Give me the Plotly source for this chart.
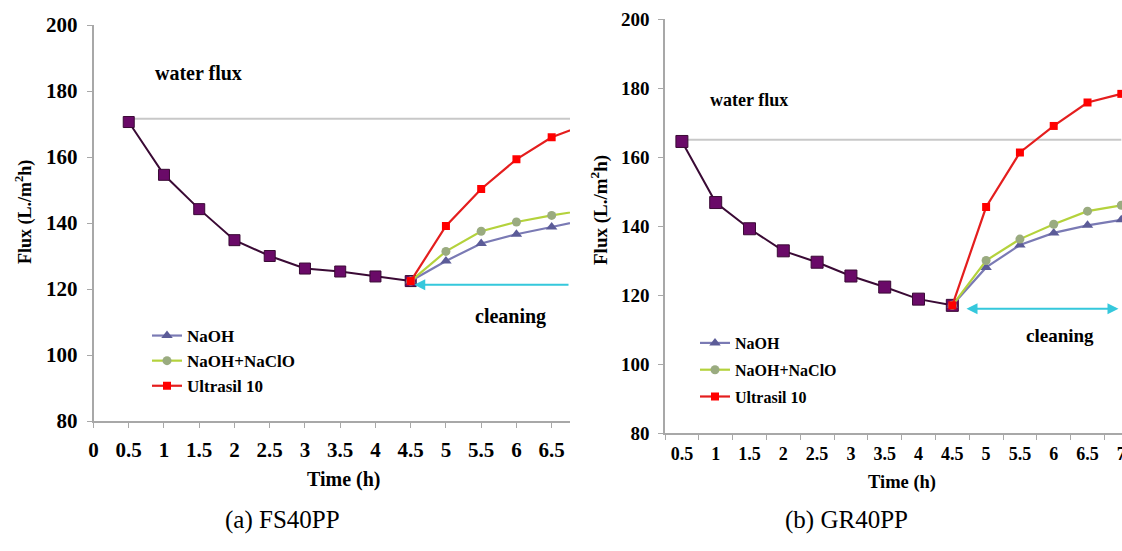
import plotly.graph_objects as go

# ---------------- data ----------------
fouling_time = [0.5, 1, 1.5, 2, 2.5, 3, 3.5, 4, 4.5]
cleaning_time = [4.5, 5, 5.5, 6, 6.5, 7]

# (a) FS40PP
fs_fouling = [170.6, 154.6, 144.2, 134.8, 130.0, 126.2, 125.3, 123.8, 122.4]
fs_naoh = [122.4, 128.5, 133.8, 136.6, 138.8, 141.0]
fs_naoh_naclo = [122.4, 131.4, 137.5, 140.3, 142.3, 144.0]
fs_ultrasil = [122.4, 139.1, 150.3, 159.3, 166.0, 170.0]
fs_water_flux = 171.6
fs_cleaning_arrow = [4.55, 6.76]
fs_cleaning_level = 121.3

# (b) GR40PP
gr_fouling = [164.5, 146.8, 139.2, 132.8, 129.5, 125.5, 122.3, 118.8, 117.0]
gr_naoh = [117.0, 128.0, 134.5, 138.0, 140.2, 141.8]
gr_naoh_naclo = [117.0, 130.0, 136.2, 140.5, 144.3, 146.0]
gr_ultrasil = [117.0, 145.5, 161.3, 169.0, 175.8, 178.3]
gr_water_flux = 165.0
gr_cleaning_arrow = [4.71, 6.98]
gr_cleaning_level = 116.0

series_names = ["NaOH", "NaOH+NaClO", "Ultrasil 10"]
fs_xtick_vals = [0, 0.5, 1, 1.5, 2, 2.5, 3, 3.5, 4, 4.5, 5, 5.5, 6, 6.5]
fs_xtick_text = ["0", "0.5", "1", "1.5", "2", "2.5", "3", "3.5", "4", "4.5", "5", "5.5", "6", "6.5"]
gr_xtick_vals = [0.5, 1, 1.5, 2, 2.5, 3, 3.5, 4, 4.5, 5, 5.5, 6, 6.5, 7]
gr_xtick_text = ["0.5", "1", "1.5", "2", "2.5", "3", "3.5", "4", "4.5", "5", "5.5", "6", "6.5", "7"]
ytick_vals = [80, 100, 120, 140, 160, 180, 200]

# ---------------- style ----------------
W, H = 1122, 551
SERIF = "Liberation Serif, Times New Roman, serif"
AXIS_GREY = "#a8a8a8"
PURPLE_FILL, PURPLE_LINE = "#6a0a68", "#3a0a35"
BLUE_M, BLUE_L = "#5c5c98", "#7a7ab4"
GREEN_M, GREEN_L = "#9aab80", "#b4d23c"
RED_M, RED_L = "#ff0000", "#e41e1e"
CYAN = "#35c8dc"
WATER_GREY = "#c8c8c8"


def px_x(p):
    return p / W


def px_y(p):
    return (H - p) / H


fig = go.Figure()


def add_panel(xa, ya, legend_name, fouling, naoh, naoh_naclo, ultrasil, water, msize_p):
    fig.add_trace(go.Scatter(
        x=[fouling_time[0], cleaning_time[-1]], y=[water, water], mode="lines",
        line=dict(color=WATER_GREY, width=2), showlegend=False, hoverinfo="skip",
        xaxis=xa, yaxis=ya))
    fig.add_trace(go.Scatter(
        x=fouling_time, y=fouling, mode="lines+markers",
        line=dict(color=PURPLE_LINE, width=2),
        marker=dict(symbol="square", size=msize_p, color=PURPLE_FILL,
                    line=dict(color=PURPLE_LINE, width=1)),
        showlegend=False, xaxis=xa, yaxis=ya))
    styles = [
        (naoh, BLUE_L, BLUE_M, "triangle-up", 10),
        (naoh_naclo, GREEN_L, GREEN_M, "circle", 9),
        (ultrasil, RED_L, RED_M, "square", 8),
    ]
    for name, (vals, lc, mc, sym, ms) in zip(series_names, styles):
        fig.add_trace(go.Scatter(
            x=cleaning_time, y=vals, mode="lines+markers", name=name,
            line=dict(color=lc, width=2.2),
            marker=dict(symbol=sym, size=ms, color=mc),
            legend=legend_name, legendgroup=legend_name + name,
            xaxis=xa, yaxis=ya))


add_panel("x", "y", "legend", fs_fouling, fs_naoh, fs_naoh_naclo, fs_ultrasil, fs_water_flux, 11)
add_panel("x2", "y2", "legend2", gr_fouling, gr_naoh, gr_naoh_naclo, gr_ultrasil, gr_water_flux, 12)

common_axis = dict(showgrid=False, zeroline=False, showline=True, linecolor=AXIS_GREY,
                   linewidth=1.5, ticks="outside", tickcolor=AXIS_GREY, ticklen=5,
                   tickwidth=1.2, automargin=False)

fig.update_layout(
    width=W, height=H,
    margin=dict(l=0, r=0, t=0, b=0, pad=0, autoexpand=False),
    paper_bgcolor="white", plot_bgcolor="white",
    xaxis=dict(domain=[px_x(93.5), px_x(570)], range=[0, 6.76], anchor="y",
               tickmode="array", tickvals=fs_xtick_vals, ticktext=fs_xtick_text,
               tickfont=dict(family=SERIF, size=21, color="black", weight="bold"),
               ticklabelstandoff=4, **common_axis),
    yaxis=dict(domain=[px_y(421), px_y(25)], range=[80, 200], anchor="x",
               tickmode="array", tickvals=ytick_vals,
               tickfont=dict(family=SERIF, size=21, color="black", weight="bold"),
               ticklabelstandoff=5, **common_axis),
    xaxis2=dict(domain=[px_x(665), 1.0], range=[0.25, 7.01], anchor="y2",
                tickmode="array", tickvals=gr_xtick_vals, ticktext=gr_xtick_text,
                tickfont=dict(family=SERIF, size=18, color="black", weight="bold"),
                showgrid=False, zeroline=False, showline=True, linecolor=AXIS_GREY,
                linewidth=1.5, ticks="", ticklabelstandoff=4, automargin=False,
                ticklabeloverflow="allow",
                minor=dict(tickmode="linear", tick0=0.25, dtick=0.5, ticks="outside",
                           ticklen=5, tickcolor=AXIS_GREY, tickwidth=1.2, showgrid=False)),
    yaxis2=dict(domain=[px_y(433), px_y(19)], range=[80, 200], anchor="x2",
                tickmode="array", tickvals=ytick_vals,
                tickfont=dict(family=SERIF, size=19, color="black", weight="bold"),
                ticklabelstandoff=5, **common_axis),
    legend=dict(x=px_x(147), y=px_y(318), xanchor="left", yanchor="top",
                bgcolor="rgba(0,0,0,0)", borderwidth=0, tracegroupgap=0,
                font=dict(family=SERIF, size=17, color="black", weight="bold")),
    legend2=dict(x=px_x(695), y=px_y(326), xanchor="left", yanchor="top",
                 bgcolor="rgba(0,0,0,0)", borderwidth=0, tracegroupgap=3,
                 font=dict(family=SERIF, size=16, color="black", weight="bold")),
    showlegend=True,
)


def bold(s):
    return dict(family=SERIF, size=s, color="black", weight="bold")


def paper_text(text, x, y, font, angle=0):
    return dict(text=text, x=px_x(x), y=px_y(y), xref="paper", yref="paper",
                xanchor="center", yanchor="middle", showarrow=False,
                textangle=angle, font=font)


def data_text(text, x, y, xr, yr, font):
    return dict(text=text, x=x, y=y, xref=xr, yref=yr, xanchor="center",
                yanchor="middle", showarrow=False, font=font)


annotations = [
    paper_text("Time (h)", 344, 479, bold(20)),
    paper_text("Time (h)", 902, 482, bold(18.5)),
    paper_text("Flux (L./m<sup>2</sup>h)", 24, 212, bold(18), -90),
    paper_text("Flux (L./m<sup>2</sup>h)", 599, 210, bold(19), -90),
    data_text("water flux", 1.49, 185.4, "x", "y", bold(20)),
    data_text("water flux", 1.49, 176.5, "x2", "y2", bold(18)),
    data_text("cleaning", 5.92, 111.8, "x", "y", bold(20)),
    data_text("cleaning", 6.09, 108.4, "x2", "y2", bold(19)),
    dict(text="", x=fs_cleaning_arrow[0], y=fs_cleaning_level, xref="x", yref="y",
         ax=fs_cleaning_arrow[1], ay=fs_cleaning_level, axref="x", ayref="y",
         showarrow=True, arrowhead=2, arrowsize=1.1, arrowwidth=2, arrowcolor=CYAN),
    dict(text="", x=gr_cleaning_arrow[0], y=gr_cleaning_level, xref="x2", yref="y2",
         ax=gr_cleaning_arrow[1], ay=gr_cleaning_level, axref="x2", ayref="y2",
         showarrow=True, arrowhead=2, startarrowhead=2, arrowside="end+start",
         arrowsize=1.1, startarrowsize=1.1, arrowwidth=2, arrowcolor=CYAN),
    paper_text("(a) FS40PP", 282, 520, dict(family=SERIF, size=25, color="black")),
    paper_text("(b) GR40PP", 846, 520, dict(family=SERIF, size=25, color="black")),
]
fig.update_layout(annotations=annotations)

fig.write_html("out.html", config={"displayModeBar": False},
               post_script="document.body.style.margin='0';document.body.style.padding='0';")
